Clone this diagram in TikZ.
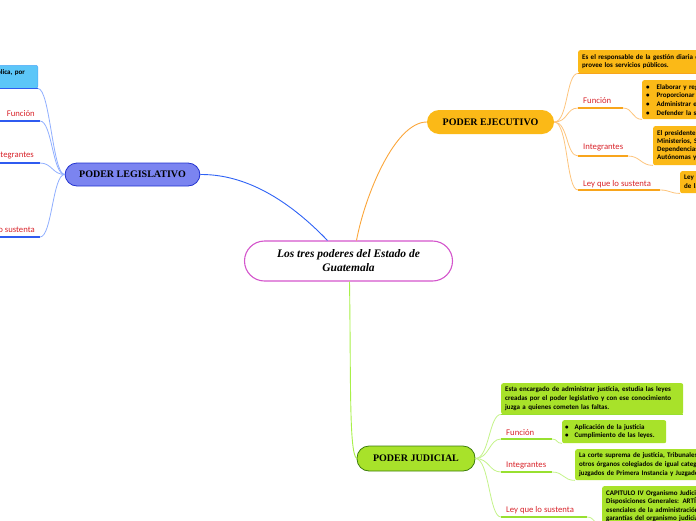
\documentclass[tikz,border=0pt]{standalone}
\usepackage{fontspec}
\newfontfamily\carl{Carlito}
\newfontfamily\ttl{Liberation Serif}
\definecolor{ejfill}{HTML}{FBB917}
\definecolor{ejline}{HTML}{F8A51C}
\definecolor{ejconn}{HTML}{FDC47C}
\definecolor{lgfill}{HTML}{7B84F0}
\definecolor{lgbord}{HTML}{2233D0}
\definecolor{lgline}{HTML}{2F5BF0}
\definecolor{lgconn}{HTML}{8FAEFF}
\definecolor{lgbox}{HTML}{5CC6F8}
\definecolor{jdfill}{HTML}{A8E22A}
\definecolor{jdbord}{HTML}{3C7D0A}
\definecolor{jdline}{HTML}{98E030}
\definecolor{jdconn}{HTML}{C4F38A}
\definecolor{ttlbord}{HTML}{D455CC}
\definecolor{lblred}{HTML}{D8232A}
\definecolor{mainblue}{HTML}{2E62F5}
\definecolor{mainorange}{HTML}{FBA63A}
\definecolor{maingreen}{HTML}{A8F048}
\tikzset{
  titlebox/.style={draw=ttlbord, line width=1.1pt, fill=white, rounded corners=20pt,
    minimum width=208pt, minimum height=40pt, align=center, inner sep=0pt,
    font=\ttl\bfseries\itshape\fontsize{11.5}{14}\selectfont},
  poder/.style={rounded corners=12pt, inner sep=0pt, font=\ttl\bfseries\fontsize{10}{12}\selectfont},
  infobox/.style={anchor=north west, rounded corners=2pt, inner xsep=4pt, inner ysep=2pt,
    align=left, font=\carl\bfseries\fontsize{7}{8.6}\selectfont},
  lbl/.style={anchor=base west, inner sep=0pt, text=lblred, font=\carl\fontsize{8.7}{10}\selectfont},
  lblr/.style={lbl, anchor=base east},
  ejc/.style={draw=ejconn, line width=0.8pt},
  ejul/.style={draw=ejline, line width=1.6pt},
  lgc/.style={draw=lgconn, line width=0.8pt},
  lgul/.style={draw=lgline, line width=1.6pt},
  jdc/.style={draw=jdconn, line width=0.8pt},
  jdul/.style={draw=jdline, line width=1.6pt}
}
\begin{document}
\begin{tikzpicture}[x=1pt,y=-1pt]
\useasboundingbox (0,0) rectangle (696,520);
\clip (0,0) rectangle (696,520);

% main nodes
\node[titlebox] (c) at (348.5,261) {Los tres poderes del Estado de\\Guatemala};
\node[poder, fill=ejfill, minimum width=127pt, minimum height=24pt] (ej) at (490.5,122) {PODER EJECUTIVO};
\node[poder, fill=lgfill, draw=lgbord, line width=0.8pt, minimum width=135pt, minimum height=23pt] (leg) at (132.5,174.5) {PODER LEGISLATIVO};
\node[poder, fill=jdfill, draw=jdbord, line width=0.8pt, minimum width=118pt, minimum height=25pt] (jud) at (416,458.5) {PODER JUDICIAL};

\coordinate (cb) at ([xshift=-21pt]c.north);
\coordinate (co) at ([xshift=8pt]c.north);
\coordinate (cg) at ([xshift=1pt]c.south);
\draw[mainblue, line width=0.9pt] (leg.east) .. controls (255,174) and (300,212) .. (cb);
\draw[mainorange, line width=0.9pt] (ej.west) .. controls (395,122) and (365,195) .. (co);
\draw[maingreen, line width=0.9pt] (cg) .. controls (351,380) and (349,452) .. (jud.west);

% ---------- Ejecutivo ----------
\node[infobox, fill=ejfill, text width=220pt, minimum height=23pt] (etop) at (578,50)
  {Es el responsable de la gestión diaria de los asuntos del Estado y\\provee los servicios públicos.};
\draw[ejul] (etop.south west) -- (etop.south east);
\draw[ejc] (ej.east) .. controls +(14,0) and +(-12,0) .. (etop.south west);

\coordinate (efa) at (578,108); \coordinate (efb) at (623,108);
\node[lbl] (ef) at (583,103) {Función};
\node[infobox, fill=ejfill, text width=120pt, minimum height=39pt] (efbox) at (642,80)
  {\textbullet\hspace{7pt}Elaborar y reglamentar leyes\\
   \textbullet\hspace{7pt}Proporcionar servicios\\
   \textbullet\hspace{7pt}Administrar el Estado\\
   \textbullet\hspace{7pt}Defender la soberanía};
\draw[ejul] (efa) -- (efb);
\draw[ejc] (ej.east) .. controls +(14,0) and +(-12,0) .. (efa);
\draw[ejc] (efb) .. controls +(10,0) and +(-10,0) .. (efbox.south west);

\coordinate (eia) at (578,156); \coordinate (eib) at (628,156);
\node[lbl] (ei) at (583,149) {Integrantes};
\node[infobox, fill=ejfill, text width=120pt, minimum height=39pt, font=\carl\bfseries\fontsize{7}{7.9}\selectfont] (eibox) at (653,126)
  {El presidente, vicepresidente\\Ministerios, Secretarías\\Dependencias, Entidades\\Autónomas y descentralizadas};
\draw[ejul] (eia) -- (eib);
\draw[ejc] (ej.east) .. controls +(14,0) and +(-12,0) .. (eia);
\draw[ejc] (eib) .. controls +(12,0) and +(-12,0) .. (eibox.south west);

\coordinate (ela) at (578,190); \coordinate (elb) at (660,190);
\node[lbl] (el) at (583,186) {Ley que lo sustenta};
\node[infobox, fill=ejfill, text width=100pt, minimum height=22pt] (elbox) at (680,171)
  {Ley del Organismo\\de la República};
\draw[ejul] (ela) -- (elb);
\draw[ejc] (ej.east) .. controls +(14,0) and +(-12,0) .. (ela);
\draw[ejc] (elb) .. controls +(10,0) and +(-10,0) .. (elbox.south west);

% ---------- Legislativo ----------
\node[infobox, anchor=north east, fill=lgbox, draw=lgbox!85!blue, line width=0.5pt,
  text width=220pt, align=right, inner xsep=13pt, inner ysep=4pt, text height=5pt, text depth=10pt] (ltop) at (38,65)
  {Es el organismo que legisla en nombre de la República, por};
\draw[lgul] (ltop.south west) -- (ltop.south east);
\draw[lgc] (leg.west) .. controls +(-12,0) and +(12,0) .. (ltop.south east);

\coordinate (lfa) at (0,121); \coordinate (lfb) at (40,121);
\node[lblr] (lf) at (35,116) {Función};
\draw[lgul] (lfa) -- (lfb);
\draw[lgc] (leg.west) .. controls +(-12,0) and +(12,0) .. (lfb);

\coordinate (lia) at (0,163); \coordinate (lib) at (40,163);
\node[lblr] (li) at (34,157) {Integrantes};
\draw[lgul] (lia) -- (lib);
\draw[lgc] (leg.west) .. controls +(-12,0) and +(12,0) .. (lib);

\coordinate (lla) at (0,237); \coordinate (llb) at (40,237);
\node[lblr] (ll) at (35,232) {Ley que lo sustenta};
\draw[lgul] (lla) -- (llb);
\draw[lgc] (leg.west) .. controls +(-12,0) and +(12,0) .. (llb);

% ---------- Judicial ----------
\node[infobox, fill=jdfill, text width=174pt, minimum height=31pt] (jtop) at (501,383)
  {Esta encargado de administrar justicia, estudia las leyes\\creadas por el poder legislativo y con ese conocimiento\\juzga a quienes cometen las faltas.};
\draw[jdul] (jtop.south west) -- (jtop.south east);
\draw[jdc] (jud.east) .. controls +(14,0) and +(-12,0) .. (jtop.south west);

\coordinate (jfa) at (501,439); \coordinate (jfb) at (552,439);
\node[lbl] (jf) at (506,435) {Función};
\node[infobox, fill=jdfill, text width=98pt, inner xsep=3pt, minimum height=23pt] (jfbox) at (562,420)
  {\textbullet\hspace{6pt}Aplicación de la justicia\\
   \textbullet\hspace{6pt}Cumplimiento de las leyes.};
\draw[jdul] (jfa) -- (jfb);
\draw[jdc] (jud.east) .. controls +(14,0) and +(-12,0) .. (jfa);
\draw[jdc] (jfb) .. controls +(6,0) and +(-6,0) .. (jfbox.south west);

\coordinate (jia) at (501,472); \coordinate (jib) at (552,472);
\node[lbl] (ji) at (506,467) {Integrantes};
\node[infobox, fill=jdfill, text width=220pt, minimum height=31pt] (jibox) at (575,449)
  {La corte suprema de justicia, Tribunales de apelaciones y\\otros órganos colegiados de igual categoría,\\juzgados de Primera Instancia y Juzgados de paz.};
\draw[jdul] (jia) -- (jib);
\draw[jdc] (jud.east) .. controls +(14,0) and +(-12,0) .. (jia);
\draw[jdc] (jib) .. controls +(12,0) and +(-12,0) .. (jibox.south west);

\coordinate (jla) at (501,517); \coordinate (jlb) at (587,517);
\node[lbl] (jl) at (506,512) {Ley que lo sustenta};
\node[infobox, fill=jdfill, text width=220pt, inner ysep=3pt] (jlbox) at (602,486)
  {CAPITULO IV Organismo Judicial. SECCIÓN PRIMERA\\Disposiciones Generales: ARTÍCULO 203\\esenciales de la administración de justicia,\\garantías del organismo judicial};
\draw[jdul] (jla) -- (jlb);
\draw[jdc] (jud.east) .. controls +(14,0) and +(-12,0) .. (jla);
\draw[jdc] (jlb) .. controls +(8,0) and +(-8,0) .. (jlbox.south west);
\end{tikzpicture}
\end{document}
